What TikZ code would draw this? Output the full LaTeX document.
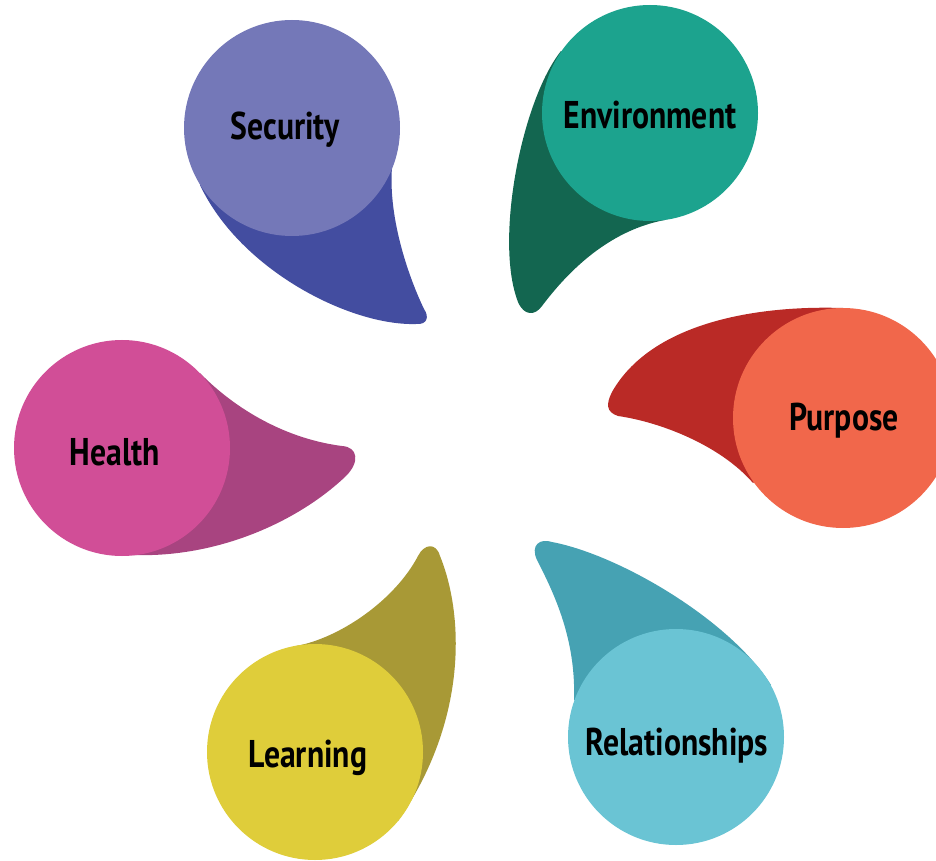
\documentclass[tikz,border=0pt]{standalone}
\usepackage{fontspec}
\newfontfamily\lblfont[FakeStretch=0.82]{PT Sans}
\definecolor{secL}{RGB}{116,120,184}
\definecolor{secD}{RGB}{67,77,160}
\definecolor{envL}{RGB}{28,163,142}
\definecolor{envD}{RGB}{19,102,80}
\definecolor{purL}{RGB}{241,103,75}
\definecolor{purD}{RGB}{186,42,38}
\definecolor{heaL}{RGB}{209,78,151}
\definecolor{heaD}{RGB}{168,68,128}
\definecolor{leaL}{RGB}{223,205,58}
\definecolor{leaD}{RGB}{168,153,54}
\definecolor{relL}{RGB}{106,196,212}
\definecolor{relD}{RGB}{70,162,179}
\tikzset{
  lbl/.style={font=\lblfont\bfseries\fontsize{22}{26}\selectfont, text=black, inner sep=0pt},
}
\begin{document}
\begin{tikzpicture}[x=0.02cm,y=-0.02cm]
\useasboundingbox (0,0) rectangle (936,861);
\clip (0,0) rectangle (936,861);
% Security
\fill[secD] (200,185) .. controls (240,270) and (350,326) .. (416,324)
  .. controls (428,325) and (429,316) .. (424,309)
  .. controls (410,280) and (388,220) .. (392,167) -- (292,128) -- cycle;
\fill[secL] (292,128) circle [radius=108];
\node[lbl] (security) at (285,130) {Security};
% Environment
\fill[envD] (561,51) .. controls (522,100) and (494,240) .. (518,302)
  .. controls (524,316) and (535,316) .. (542,306)
  .. controls (558,285) and (600,232) .. (665,220) -- (650,113) -- cycle;
\fill[envL] (650,113) circle [radius=108];
\node[lbl] (environment) at (650,115) {Environment};
% Purpose
\fill[purD] (843,308) .. controls (750,305) and (650,325) .. (612,392)
  .. controls (606,404) and (606,412) .. (618,416)
  .. controls (660,422) and (720,445) .. (753,483) -- (843,418) -- cycle;
\fill[purL] (843,418) circle [radius=110];
\node[lbl] (purpose) at (844,421) {Purpose};
% Health
\fill[heaD] (200,373) .. controls (230,404) and (280,438) .. (342,446)
  .. controls (358,447) and (360,462) .. (346,476)
  .. controls (300,520) and (220,558) .. (133,555) -- (122,448) -- cycle;
\fill[heaL] (122,448) circle [radius=108];
\node[lbl] (health) at (115,452) {Health};
% Learning
\fill[leaD] (296,646) .. controls (340,638) and (395,600) .. (418,556)
  .. controls (424,544) and (436,542) .. (440,556)
  .. controls (464,615) and (468,720) .. (398,821) -- (315,752) -- cycle;
\fill[leaL] (315,752) circle [radius=108];
\node[lbl] (learning) at (308,758) {Learning};
% Relationships
\fill[relD] (574,700) .. controls (576,640) and (555,595) .. (537,560)
  .. controls (530,545) and (540,538) .. (552,542)
  .. controls (620,555) and (730,620) .. (771,685) -- (676,737) -- cycle;
\fill[relL] (676,737) circle [radius=108];
\node[lbl] (relationships) at (677,746) {Relationships};
\end{tikzpicture}
\end{document}
